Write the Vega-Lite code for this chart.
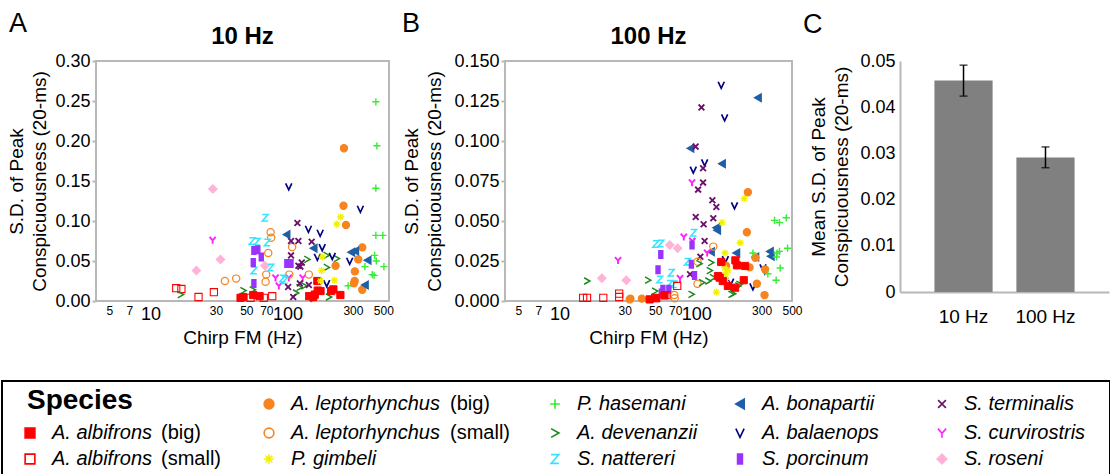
{
 "$schema": "https://vega.github.io/schema/vega-lite/v6.json",
 "padding": {"left": 1, "top": 10, "right": 0, "bottom": 0},
 "background": "white",
 "config": {
  "font": "Liberation Sans",
  "view": {"stroke": null},
  "title": {"color": "black"},
  "axis": {"labelColor": "black", "titleColor": "black"}
 },
 "datasets": {
  "a": [
   {"fm":15.4,"sd":0.016,"sp":"AbS"},{"fm":16.8,"sd":0.015,"sp":"AbS"},{"fm":22.4,"sd":0.005,"sp":"AbS"},{"fm":29.0,"sd":0.011,"sp":"AbS"},{"fm":53.7,"sd":0.004,"sp":"AbS"},{"fm":67.1,"sd":0.004,"sp":"AbS"},{"fm":77.3,"sd":0.006,"sp":"AbS"},
   {"fm":16.6,"sd":0.008,"sp":"Ad"},{"fm":47.5,"sd":0.013,"sp":"Ad"},{"fm":55.6,"sd":0.014,"sp":"Ad"},{"fm":192,"sd":0.057,"sp":"Ad"},{"fm":228,"sd":0.053,"sp":"Ad"},{"fm":139,"sd":0.052,"sp":"Ad"},{"fm":193,"sd":0.042,"sp":"Ad"},{"fm":122,"sd":0.017,"sp":"Ad"},{"fm":132,"sd":0.019,"sp":"Ad"},{"fm":115,"sd":0.010,"sp":"Ad"},{"fm":141,"sd":0.006,"sp":"Ad"},{"fm":200,"sd":0.005,"sp":"Ad"},{"fm":154,"sd":0.003,"sp":"Ad"},
   {"fm":45.4,"sd":0.004,"sp":"AbB"},{"fm":47.5,"sd":0.005,"sp":"AbB"},{"fm":56.2,"sd":0.0075,"sp":"AbB"},{"fm":62.5,"sd":0.006,"sp":"AbB"},{"fm":165,"sd":0.025,"sp":"AbB"},{"fm":166,"sd":0.013,"sp":"AbB"},{"fm":158,"sd":0.008,"sp":"AbB"},{"fm":174,"sd":0.0125,"sp":"AbB"},{"fm":208,"sd":0.0125,"sp":"AbB"},{"fm":216,"sd":0.0145,"sp":"AbB"},{"fm":243,"sd":0.0075,"sp":"AbB"},{"fm":154,"sd":0.005,"sp":"AbB"},{"fm":144,"sd":0.006,"sp":"AbB"},
   {"fm":28.5,"sd":0.140,"sp":"Sr"},{"fm":32.4,"sd":0.052,"sp":"Sr"},{"fm":21.6,"sd":0.038,"sp":"Sr"},{"fm":68.3,"sd":0.044,"sp":"Sr"},
   {"fm":28.4,"sd":0.076,"sp":"Sc"},{"fm":81.7,"sd":0.029,"sp":"Sc"},{"fm":86.4,"sd":0.019,"sp":"Sc"},{"fm":102,"sd":0.029,"sp":"Sc"},{"fm":129,"sd":0.029,"sp":"Sc"},
   {"fm":34.9,"sd":0.025,"sp":"AlS"},{"fm":42.2,"sd":0.028,"sp":"AlS"},{"fm":75.2,"sd":0.086,"sp":"AlS"},{"fm":76.0,"sd":0.079,"sp":"AlS"},{"fm":108,"sd":0.0675,"sp":"AlS"},{"fm":72.3,"sd":0.060,"sp":"AlS"},{"fm":69.9,"sd":0.033,"sp":"AlS"},{"fm":103,"sd":0.033,"sp":"AlS"},{"fm":143,"sd":0.033,"sp":"AlS"},{"fm":69.1,"sd":0.024,"sp":"AlS"},
   {"fm":102,"sd":0.143,"sp":"Aba"},{"fm":340,"sd":0.115,"sp":"Aba"},{"fm":142,"sd":0.090,"sp":"Aba"},{"fm":173,"sd":0.085,"sp":"Aba"},{"fm":179,"sd":0.067,"sp":"Aba"},{"fm":212,"sd":0.056,"sp":"Aba"},{"fm":284,"sd":0.050,"sp":"Aba"},{"fm":165,"sd":0.055,"sp":"Aba"},{"fm":193,"sd":0.022,"sp":"Aba"},
   {"fm":441,"sd":0.141,"sp":"Ph"},{"fm":432,"sd":0.057,"sp":"Ph"},{"fm":444,"sd":0.050,"sp":"Ph"},{"fm":367,"sd":0.043,"sp":"Ph"},{"fm":505,"sd":0.043,"sp":"Ph"},{"fm":441,"sd":0.082,"sp":"Ph"},{"fm":496,"sd":0.082,"sp":"Ph"},{"fm":415,"sd":0.033,"sp":"Ph"},{"fm":428,"sd":0.032,"sp":"Ph"},{"fm":277,"sd":0.019,"sp":"Ph"},{"fm":441,"sd":0.249,"sp":"Ph"},{"fm":449,"sd":0.194,"sp":"Ph"},
   {"fm":256,"sd":0.119,"sp":"AlB"},{"fm":267,"sd":0.095,"sp":"AlB"},{"fm":351,"sd":0.067,"sp":"AlB"},{"fm":328,"sd":0.052,"sp":"AlB"},{"fm":310,"sd":0.037,"sp":"AlB"},{"fm":309,"sd":0.025,"sp":"AlB"},{"fm":305,"sd":0.022,"sp":"AlB"},{"fm":351,"sd":0.014,"sp":"AlB"},{"fm":224,"sd":0.044,"sp":"AlB"},{"fm":258,"sd":0.191,"sp":"AlB"},
   {"fm":68.7,"sd":0.104,"sp":"Sn"},{"fm":55.2,"sd":0.075,"sp":"Sn"},{"fm":60.1,"sd":0.074,"sp":"Sn"},{"fm":71.1,"sd":0.073,"sp":"Sn"},{"fm":75.5,"sd":0.042,"sp":"Sn"},{"fm":56.8,"sd":0.038,"sp":"Sn"},{"fm":92.0,"sd":0.028,"sp":"Sn"},{"fm":95.5,"sd":0.026,"sp":"Sn"},
   {"fm":244,"sd":0.105,"sp":"Pg"},{"fm":229,"sd":0.096,"sp":"Pg"},{"fm":177,"sd":0.038,"sp":"Pg"},{"fm":220,"sd":0.026,"sp":"Pg"},{"fm":179,"sd":0.055,"sp":"Pg"},{"fm":174,"sd":0.025,"sp":"Pg"},
   {"fm":118,"sd":0.0975,"sp":"St"},{"fm":106,"sd":0.075,"sp":"St"},{"fm":120,"sd":0.075,"sp":"St"},{"fm":150,"sd":0.074,"sp":"St"},{"fm":106,"sd":0.057,"sp":"St"},{"fm":127,"sd":0.048,"sp":"St"},{"fm":120,"sd":0.044,"sp":"St"},{"fm":124,"sd":0.043,"sp":"St"},{"fm":101,"sd":0.0175,"sp":"St"},{"fm":123,"sd":0.022,"sp":"St"},{"fm":143,"sd":0.020,"sp":"St"},{"fm":110,"sd":0.005,"sp":"St"},
   {"fm":98.3,"sd":0.083,"sp":"Abo"},{"fm":155,"sd":0.066,"sp":"Abo"},{"fm":292,"sd":0.061,"sp":"Abo"},{"fm":312,"sd":0.0625,"sp":"Abo"},{"fm":384,"sd":0.051,"sp":"Abo"},{"fm":367,"sd":0.020,"sp":"Abo"},
   {"fm":56.8,"sd":0.063,"sp":"Sp"},{"fm":60.7,"sd":0.064,"sp":"Sp"},{"fm":98.8,"sd":0.047,"sp":"Sp"},{"fm":106,"sd":0.047,"sp":"Sp"},{"fm":56.2,"sd":0.048,"sp":"Sp"},{"fm":64.3,"sd":0.055,"sp":"Sp"},{"fm":56.8,"sd":0.022,"sp":"Sp"}
  ],
  "b": [
   {"fm":152,"sd":0.135,"sp":"Aba"},{"fm":161,"sd":0.1146,"sp":"Aba"},{"fm":115,"sd":0.0865,"sp":"Aba"},{"fm":95,"sd":0.082,"sp":"Aba"},{"fm":190,"sd":0.0596,"sp":"Aba"},{"fm":163,"sd":0.026,"sp":"Aba"},{"fm":307,"sd":0.0208,"sp":"Aba"},{"fm":316,"sd":0.019,"sp":"Aba"},{"fm":178,"sd":0.0119,"sp":"Aba"},{"fm":259,"sd":0.009,"sp":"Aba"},
   {"fm":282,"sd":0.127,"sp":"Abo"},{"fm":90.6,"sd":0.0954,"sp":"Abo"},{"fm":154,"sd":0.0858,"sp":"Abo"},{"fm":140,"sd":0.0458,"sp":"Abo"},{"fm":142,"sd":0.0442,"sp":"Abo"},{"fm":128,"sd":0.0308,"sp":"Abo"},{"fm":196,"sd":0.030,"sp":"Abo"},{"fm":270,"sd":0.0275,"sp":"Abo"},{"fm":345,"sd":0.031,"sp":"Abo"},{"fm":350,"sd":0.028,"sp":"Abo"},
   {"fm":109,"sd":0.121,"sp":"St"},{"fm":98.8,"sd":0.0965,"sp":"St"},{"fm":112,"sd":0.083,"sp":"St"},{"fm":112,"sd":0.074,"sp":"St"},{"fm":103,"sd":0.0696,"sp":"St"},{"fm":131,"sd":0.063,"sp":"St"},{"fm":140,"sd":0.0588,"sp":"St"},{"fm":99,"sd":0.0525,"sp":"St"},{"fm":133,"sd":0.0517,"sp":"St"},{"fm":113,"sd":0.048,"sp":"St"},{"fm":115,"sd":0.0375,"sp":"St"},{"fm":107,"sd":0.0277,"sp":"St"},{"fm":90,"sd":0.0167,"sp":"St"},
   {"fm":93,"sd":0.074,"sp":"Sc"},{"fm":81,"sd":0.040,"sp":"Sc"},{"fm":93.5,"sd":0.0375,"sp":"Sc"},{"fm":26.8,"sd":0.0254,"sp":"Sc"},{"fm":120,"sd":0.030,"sp":"Sc"},{"fm":76,"sd":0.0142,"sp":"Sc"},
   {"fm":238,"sd":0.068,"sp":"AlB"},{"fm":234,"sd":0.043,"sp":"AlB"},{"fm":165,"sd":0.022,"sp":"AlB"},{"fm":245,"sd":0.021,"sp":"AlB"},{"fm":318,"sd":0.0198,"sp":"AlB"},{"fm":270,"sd":0.027,"sp":"AlB"},{"fm":315,"sd":0.0037,"sp":"AlB"},{"fm":33,"sd":0.0015,"sp":"AlB"},{"fm":40,"sd":0.0015,"sp":"AlB"},{"fm":277,"sd":0.0108,"sp":"AlB"},
   {"fm":224,"sd":0.064,"sp":"Pg"},{"fm":154,"sd":0.049,"sp":"Pg"},{"fm":162,"sd":0.030,"sp":"Pg"},{"fm":209,"sd":0.0364,"sp":"Pg"},{"fm":161,"sd":0.0208,"sp":"Pg"},{"fm":170,"sd":0.019,"sp":"Pg"},{"fm":163,"sd":0.0167,"sp":"Pg"},{"fm":165,"sd":0.0135,"sp":"Pg"},{"fm":140,"sd":0.0056,"sp":"Pg"},
   {"fm":373,"sd":0.0504,"sp":"Ph"},{"fm":405,"sd":0.049,"sp":"Ph"},{"fm":454,"sd":0.052,"sp":"Ph"},{"fm":389,"sd":0.030,"sp":"Ph"},{"fm":405,"sd":0.031,"sp":"Ph"},{"fm":464,"sd":0.033,"sp":"Ph"},{"fm":385,"sd":0.0275,"sp":"Ph"},{"fm":259,"sd":0.030,"sp":"Ph"},{"fm":333,"sd":0.017,"sp":"Ph"},{"fm":410,"sd":0.0206,"sp":"Ph"},{"fm":383,"sd":0.013,"sp":"Ph"},
   {"fm":95.5,"sd":0.0427,"sp":"Sn"},{"fm":50.5,"sd":0.0356,"sp":"Sn"},{"fm":55,"sd":0.036,"sp":"Sn"},{"fm":86,"sd":0.0246,"sp":"Sn"},{"fm":65.6,"sd":0.0177,"sp":"Sn"},{"fm":68.4,"sd":0.0104,"sp":"Sn"},{"fm":64,"sd":0.0108,"sp":"Sn"},{"fm":54,"sd":0.0135,"sp":"Sn"},
   {"fm":93,"sd":0.035,"sp":"Sp"},{"fm":55,"sd":0.029,"sp":"Sp"},{"fm":92,"sd":0.023,"sp":"Sp"},{"fm":97,"sd":0.016,"sp":"Sp"},{"fm":52.5,"sd":0.0196,"sp":"Sp"},{"fm":57,"sd":0.0073,"sp":"Sp"},{"fm":63,"sd":0.0073,"sp":"Sp"},{"fm":55.5,"sd":0.005,"sp":"Sp"},
   {"fm":64,"sd":0.035,"sp":"Sr"},{"fm":73,"sd":0.033,"sp":"Sr"},{"fm":30.8,"sd":0.013,"sp":"Sr"},{"fm":20.4,"sd":0.0142,"sp":"Sr"},
   {"fm":133,"sd":0.034,"sp":"AlS"},{"fm":102,"sd":0.0246,"sp":"AlS"},{"fm":102,"sd":0.0108,"sp":"AlS"},{"fm":69,"sd":0.0037,"sp":"AlS"},{"fm":69.5,"sd":0.0017,"sp":"AlS"},{"fm":32.6,"sd":0.001,"sp":"AlS"},
   {"fm":105,"sd":0.0233,"sp":"Ad"},{"fm":128,"sd":0.024,"sp":"Ad"},{"fm":125,"sd":0.019,"sp":"Ad"},{"fm":132,"sd":0.0146,"sp":"Ad"},{"fm":122,"sd":0.0125,"sp":"Ad"},{"fm":110,"sd":0.0115,"sp":"Ad"},{"fm":202,"sd":0.0094,"sp":"Ad"},{"fm":185,"sd":0.0046,"sp":"Ad"},{"fm":206,"sd":0.0104,"sp":"Ad"},{"fm":92,"sd":0.0042,"sp":"Ad"},{"fm":44.3,"sd":0.013,"sp":"Ad"},{"fm":49.8,"sd":0.0062,"sp":"Ad"},{"fm":15.9,"sd":0.0125,"sp":"Ad"},{"fm":180,"sd":0.0042,"sp":"Ad"},
   {"fm":152,"sd":0.0244,"sp":"AbB"},{"fm":193,"sd":0.0254,"sp":"AbB"},{"fm":198,"sd":0.0223,"sp":"AbB"},{"fm":227,"sd":0.0219,"sp":"AbB"},{"fm":144,"sd":0.0156,"sp":"AbB"},{"fm":148,"sd":0.0146,"sp":"AbB"},{"fm":156,"sd":0.0125,"sp":"AbB"},{"fm":170,"sd":0.0094,"sp":"AbB"},{"fm":192,"sd":0.0083,"sp":"AbB"},{"fm":222,"sd":0.013,"sp":"AbB"},{"fm":58.5,"sd":0.0035,"sp":"AbB"},{"fm":51,"sd":0.0017,"sp":"AbB"},{"fm":45.6,"sd":0.001,"sp":"AbB"},
   {"fm":72.5,"sd":0.0094,"sp":"AbS"},{"fm":50,"sd":0.002,"sp":"AbS"},{"fm":60.5,"sd":0.0037,"sp":"AbS"},{"fm":27.3,"sd":0.0046,"sp":"AbS"},{"fm":27.3,"sd":0.0025,"sp":"AbS"},{"fm":14.9,"sd":0.002,"sp":"AbS"},{"fm":15.9,"sd":0.002,"sp":"AbS"},{"fm":20.9,"sd":0.002,"sp":"AbS"}
  ],
  "bars": [
   {"freq":"10 Hz","mean":0.0458,"lo":0.0424,"hi":0.0491},
   {"freq":"100 Hz","mean":0.0291,"lo":0.0269,"hi":0.0314}
  ],
  "leg": [
   {"col":0,"row":1,"sp":"AbB","name":"A. albifrons","suffix":"(big)"},
   {"col":0,"row":2,"sp":"AbS","name":"A. albifrons","suffix":"(small)"},
   {"col":1,"row":0,"sp":"AlB","name":"A. leptorhynchus","suffix":"(big)"},
   {"col":1,"row":1,"sp":"AlS","name":"A. leptorhynchus","suffix":"(small)"},
   {"col":1,"row":2,"sp":"Pg","name":"P. gimbeli"},
   {"col":2,"row":0,"sp":"Ph","name":"P. hasemani"},
   {"col":2,"row":1,"sp":"Ad","name":"A. devenanzii"},
   {"col":2,"row":2,"sp":"Sn","name":"S. nattereri"},
   {"col":3,"row":0,"sp":"Abo","name":"A. bonapartii"},
   {"col":3,"row":1,"sp":"Aba","name":"A. balaenops"},
   {"col":3,"row":2,"sp":"Sp","name":"S. porcinum"},
   {"col":4,"row":0,"sp":"St","name":"S. terminalis"},
   {"col":4,"row":1,"sp":"Sc","name":"S. curvirostris"},
   {"col":4,"row":2,"sp":"Sr","name":"S. roseni"}
  ]
 },
 "vconcat": [
  {
   "hconcat": [
    {
     "width": 1, "height": 1,
     "data": {"values": [{"t": ""}]},
     "mark": {"type": "text", "opacity": 0},
     "encoding": {"text": {"field": "t"}}
    },
    {
     "hconcat": [
      {
       "title": {"text": "A", "anchor": "start", "fontSize": 27, "fontWeight": "normal", "offset": -14, "dx": 2},
       "vconcat": [
        {
         "width": 293, "height": 240,
         "title": {"text": "10 Hz", "fontSize": 24, "fontWeight": "bold", "offset": 3},
         "view": {"stroke": "#b8b8b8", "strokeWidth": 2},
         "data": {"name": "a"},
         "mark": {"type": "point", "filled": true, "size": 52, "opacity": 1},
         "encoding": {
          "x": {"field": "fm", "type": "quantitative", "scale": {"type": "log", "domain": [4, 550], "nice": false},
           "axis": {"values": [5,7,10,30,50,70,100,300,500], "labelExpr": "format(datum.value,'d')", "labelFontSize": {"condition": {"test": "datum.value == 10 || datum.value == 100", "value": 18}, "value": 12}, "labelOverlap": false, "labelFlush": false, "labelBound": false, "ticks": false, "domain": false, "grid": false, "labelPadding": 4, "title": "Chirp FM (Hz)", "titleFontSize": 19, "titleFontWeight": "normal", "titlePadding": 5}},
          "y": {"field": "sd", "type": "quantitative", "scale": {"domain": [0, 0.3], "nice": false},
           "axis": {"values": [0,0.05,0.1,0.15,0.2,0.25,0.3], "format": ".2f", "labelFontSize": 18, "labelFlush": false, "ticks": true, "tickSize": 4, "tickColor": "#b8b8b8", "tickWidth": 2, "domain": false, "grid": false, "labelPadding": 2, "title": ["S.D. of Peak", "Conspicuousness (20-ms)"], "titleFontSize": 19, "titleFontWeight": "normal", "titleLineHeight": 23, "titlePadding": 5}},
          "shape": {"field": "sp", "type": "nominal", "legend": null, "scale": {"domain": ["AbB","AbS","AlB","AlS","Pg","Ph","Ad","Sn","Abo","Aba","Sp","St","Sc","Sr"], "range": ["square","square","circle","circle","M-1,0L1,0M0,-1L0,1M-0.7,-0.7L0.7,0.7M-0.7,0.7L0.7,-0.7","M-1,0L1,0M0,-1L0,1","M-0.8,-0.9L0.8,0L-0.8,0.9","M-0.8,-0.9L0.8,-0.9L-0.8,0.9L0.8,0.9","triangle-left","M-0.85,-0.9L0,0.9L0.85,-0.9","M-0.5,-1L0.5,-1L0.5,1L-0.5,1Z","M-0.8,-0.8L0.8,0.8M-0.8,0.8L0.8,-0.8","M-0.85,-0.9L0,0.05L0.85,-0.9M0,0.05L0,1","diamond"]}},
          "fill": {"field": "sp", "type": "nominal", "legend": null, "scale": {"domain": ["AbB","AbS","AlB","AlS","Pg","Ph","Ad","Sn","Abo","Aba","Sp","St","Sc","Sr"], "range": ["#ff0000","transparent","#f7841e","transparent","transparent","transparent","transparent","transparent","#1f5fa8","transparent","#9933ff","transparent","transparent","#ffb3d9"]}},
          "stroke": {"field": "sp", "type": "nominal", "legend": null, "scale": {"domain": ["AbB","AbS","AlB","AlS","Pg","Ph","Ad","Sn","Abo","Aba","Sp","St","Sc","Sr"], "range": ["#ff0000","#ff0000","#f7841e","#f7841e","#f0f000","#33ee33","#1a8a1a","#33e6ff","#1f5fa8","#000080","#9933ff","#6b106b","#ff22ff","#ffb3d9"]}},
          "strokeWidth": {"field": "sp", "type": "nominal", "legend": null, "scale": {"domain": ["AbB","AbS","AlB","AlS","Pg","Ph","Ad","Sn","Abo","Aba","Sp","St","Sc","Sr"], "range": [1,2,1,2,3.2,2.4,2.2,2,1,2.2,1,2.2,2.2,1]}}
         }
        }
       ]
      },
      {
       "hconcat": [
        {
         "title": {"text": "B", "anchor": "start", "fontSize": 27, "fontWeight": "normal", "offset": -14, "dx": 0},
         "vconcat": [
          {
           "width": 287, "height": 240,
           "title": {"text": "100 Hz", "fontSize": 24, "fontWeight": "bold", "offset": 3},
           "view": {"stroke": "#b8b8b8", "strokeWidth": 2},
           "data": {"name": "b"},
           "mark": {"type": "point", "filled": true, "size": 52, "opacity": 1},
           "encoding": {
            "x": {"field": "fm", "type": "quantitative", "scale": {"type": "log", "domain": [4, 500], "nice": false},
             "axis": {"values": [5,7,10,30,50,70,100,300,500], "labelExpr": "format(datum.value,'d')", "labelFontSize": {"condition": {"test": "datum.value == 10 || datum.value == 100", "value": 18}, "value": 12}, "labelOverlap": false, "labelFlush": false, "labelBound": false, "ticks": false, "domain": false, "grid": false, "labelPadding": 4, "title": "Chirp FM (Hz)", "titleFontSize": 19, "titleFontWeight": "normal", "titlePadding": 5}},
            "y": {"field": "sd", "type": "quantitative", "scale": {"domain": [0, 0.15], "nice": false},
             "axis": {"values": [0,0.025,0.05,0.075,0.1,0.125,0.15], "format": ".3f", "labelFontSize": 18, "labelFlush": false, "ticks": true, "tickSize": 4, "tickColor": "#b8b8b8", "tickWidth": 2, "domain": false, "grid": false, "labelPadding": 2, "title": ["S.D. of Peak", "Conspicuousness (20-ms)"], "titleFontSize": 19, "titleFontWeight": "normal", "titleLineHeight": 23, "titlePadding": 9}},
            "shape": {"field": "sp", "type": "nominal", "legend": null, "scale": {"domain": ["AbB","AbS","AlB","AlS","Pg","Ph","Ad","Sn","Abo","Aba","Sp","St","Sc","Sr"], "range": ["square","square","circle","circle","M-1,0L1,0M0,-1L0,1M-0.7,-0.7L0.7,0.7M-0.7,0.7L0.7,-0.7","M-1,0L1,0M0,-1L0,1","M-0.8,-0.9L0.8,0L-0.8,0.9","M-0.8,-0.9L0.8,-0.9L-0.8,0.9L0.8,0.9","triangle-left","M-0.85,-0.9L0,0.9L0.85,-0.9","M-0.5,-1L0.5,-1L0.5,1L-0.5,1Z","M-0.8,-0.8L0.8,0.8M-0.8,0.8L0.8,-0.8","M-0.85,-0.9L0,0.05L0.85,-0.9M0,0.05L0,1","diamond"]}},
            "fill": {"field": "sp", "type": "nominal", "legend": null, "scale": {"domain": ["AbB","AbS","AlB","AlS","Pg","Ph","Ad","Sn","Abo","Aba","Sp","St","Sc","Sr"], "range": ["#ff0000","transparent","#f7841e","transparent","transparent","transparent","transparent","transparent","#1f5fa8","transparent","#9933ff","transparent","transparent","#ffb3d9"]}},
            "stroke": {"field": "sp", "type": "nominal", "legend": null, "scale": {"domain": ["AbB","AbS","AlB","AlS","Pg","Ph","Ad","Sn","Abo","Aba","Sp","St","Sc","Sr"], "range": ["#ff0000","#ff0000","#f7841e","#f7841e","#f0f000","#33ee33","#1a8a1a","#33e6ff","#1f5fa8","#000080","#9933ff","#6b106b","#ff22ff","#ffb3d9"]}},
            "strokeWidth": {"field": "sp", "type": "nominal", "legend": null, "scale": {"domain": ["AbB","AbS","AlB","AlS","Pg","Ph","Ad","Sn","Abo","Aba","Sp","St","Sc","Sr"], "range": [1,2,1,2,3.2,2.4,2.2,2,1,2.2,1,2.2,2.2,1]}}
           }
          }
         ]
        },
        {
         "title": {"text": "C", "anchor": "start", "fontSize": 27, "fontWeight": "normal", "offset": -14, "dx": -7},
         "vconcat": [
          {
           "width": 209, "height": 231,
           "title": {"text": " ", "fontSize": 24, "fontWeight": "bold", "offset": 3},
           "data": {"name": "bars"},
           "encoding": {
            "x": {"field": "freq", "type": "nominal", "sort": null, "scale": {"paddingInner": 0.29, "paddingOuter": 0.42},
             "axis": {"labelAngle": 0, "labelFontSize": 19, "ticks": false, "domainColor": "#b8b8b8", "domainWidth": 2, "title": null, "labelPadding": 15}}
           },
           "layer": [
            {
             "mark": {"type": "bar", "color": "#808080"},
             "encoding": {
              "y": {"field": "mean", "type": "quantitative", "scale": {"domain": [0, 0.05], "nice": false},
               "axis": {"values": [0,0.01,0.02,0.03,0.04,0.05], "labelExpr": "datum.value == 0 ? '0' : format(datum.value, '.2f')", "labelFontSize": 18, "labelFlush": false, "ticks": false, "domainColor": "#b8b8b8", "domainWidth": 2, "grid": false, "labelPadding": 5, "title": ["Mean S.D. of Peak", "Conspicuousness (20-ms)"], "titleFontSize": 19, "titleFontWeight": "normal", "titleLineHeight": 23, "titlePadding": 8}}
             }
            },
            {
             "mark": {"type": "errorbar", "ticks": {"size": 8}, "color": "black", "thickness": 1.5},
             "encoding": {
              "y": {"field": "lo", "type": "quantitative", "title": ["Mean S.D. of Peak", "Conspicuousness (20-ms)"]},
              "y2": {"field": "hi"}
             }
            }
           ]
          }
         ]
        }
       ],
       "spacing": -2
      }
     ],
     "spacing": 6
    }
   ],
   "spacing": 3
  },
  {
   "width": 1108, "height": 100,
   "view": {"stroke": "black", "strokeWidth": 2},
   "data": {"name": "leg"},
   "encoding": {
    "x": {"field": "col", "type": "quantitative", "scale": {"domain": [0,1,2,3,4], "range": [28,267,553,738,940], "nice": false, "zero": false}, "axis": null},
    "y": {"field": "row", "type": "quantitative", "scale": {"domain": [0,1,2], "range": [23,52,78], "nice": false, "zero": false}, "axis": null}
   },
   "layer": [
    {
     "mark": {"type": "point", "filled": true, "size": 95, "strokeWidth": 1.6, "opacity": 1},
     "encoding": {
      "shape": {"field": "sp", "type": "nominal", "legend": null, "scale": {"domain": ["AbB","AbS","AlB","AlS","Pg","Ph","Ad","Sn","Abo","Aba","Sp","St","Sc","Sr"], "range": ["square","square","circle","circle","M-1,0L1,0M0,-1L0,1M-0.7,-0.7L0.7,0.7M-0.7,0.7L0.7,-0.7","M-1,0L1,0M0,-1L0,1","M-0.8,-0.9L0.8,0L-0.8,0.9","M-0.8,-0.9L0.8,-0.9L-0.8,0.9L0.8,0.9","triangle-left","M-0.85,-0.9L0,0.9L0.85,-0.9","M-0.5,-1L0.5,-1L0.5,1L-0.5,1Z","M-0.8,-0.8L0.8,0.8M-0.8,0.8L0.8,-0.8","M-0.85,-0.9L0,0.05L0.85,-0.9M0,0.05L0,1","diamond"]}},
      "fill": {"field": "sp", "type": "nominal", "legend": null, "scale": {"domain": ["AbB","AbS","AlB","AlS","Pg","Ph","Ad","Sn","Abo","Aba","Sp","St","Sc","Sr"], "range": ["#ff0000","transparent","#f7841e","transparent","transparent","transparent","transparent","transparent","#1f5fa8","transparent","#9933ff","transparent","transparent","#ffb3d9"]}},
      "stroke": {"field": "sp", "type": "nominal", "legend": null, "scale": {"domain": ["AbB","AbS","AlB","AlS","Pg","Ph","Ad","Sn","Abo","Aba","Sp","St","Sc","Sr"], "range": ["#ff0000","#ff0000","#f7841e","#f7841e","#f0f000","#33ee33","#1a8a1a","#33e6ff","#1f5fa8","#000080","#9933ff","#6b106b","#ff22ff","#ffb3d9"]}}
     }
    },
    {
     "mark": {"type": "text", "align": "left", "baseline": "middle", "dx": 22, "fontSize": 20, "fontStyle": "italic", "color": "black"},
     "encoding": {"text": {"field": "name"}}
    },
    {
     "transform": [{"filter": "datum.col == 0"}],
     "mark": {"type": "text", "align": "left", "baseline": "middle", "dx": 131, "fontSize": 20, "color": "black"},
     "encoding": {"text": {"field": "suffix"}}
    },
    {
     "transform": [{"filter": "datum.col == 1 && datum.suffix"}],
     "mark": {"type": "text", "align": "left", "baseline": "middle", "dx": 181, "fontSize": 20, "color": "black"},
     "encoding": {"text": {"field": "suffix"}}
    },
    {
     "data": {"values": [{"col": 0, "row": 0, "label": "Species"}]},
     "mark": {"type": "text", "align": "left", "baseline": "middle", "dx": -3, "dy": -3, "fontSize": 28, "fontWeight": "bold", "color": "black"},
     "encoding": {"text": {"field": "label"}}
    }
   ]
  }
 ],
 "spacing": 32
}
